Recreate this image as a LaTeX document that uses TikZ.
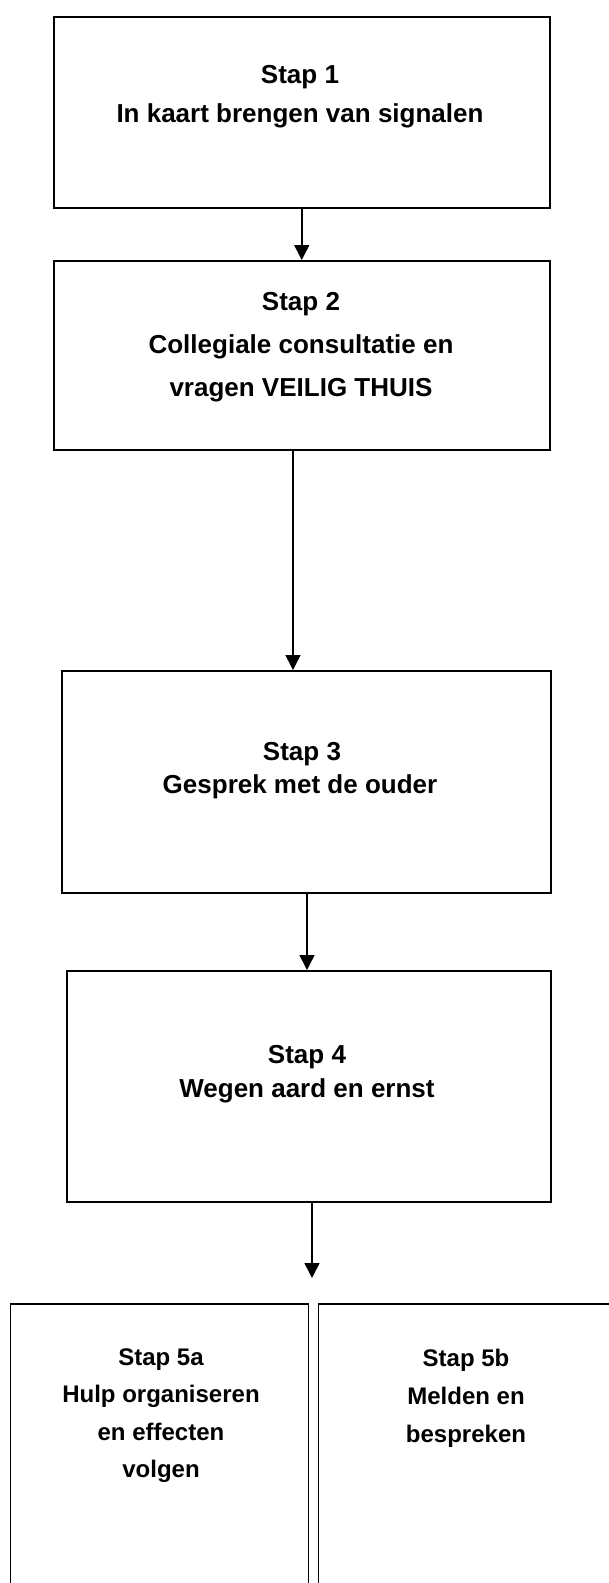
\documentclass[tikz,border=0pt]{standalone}
\usepackage{fontspec}
\setmainfont{Liberation Sans}
\usetikzlibrary{arrows.meta}
\begin{document}
\begin{tikzpicture}[x=1pt,y=-1pt,
  stepbox/.style={draw=black,line width=1.5pt,inner sep=0pt,anchor=north west},
  bigtxt/.style={anchor=base,inner sep=0pt,font=\fontsize{26}{30}\selectfont\bfseries},
  smalltxt/.style={anchor=base,inner sep=0pt,font=\fontsize{24}{28}\selectfont\bfseries},
  arr/.style={line width=1.5pt,-{Triangle[length=15pt,width=15pt]}}]
\useasboundingbox (0,0) rectangle (609,1583);
% boxes
\node[stepbox,minimum width=496pt,minimum height=191pt] (b1) at (53,16) {};
\node[stepbox,minimum width=496pt,minimum height=189pt] (b2) at (53,260) {};
\node[stepbox,minimum width=489pt,minimum height=222pt] (b3) at (61,670) {};
\node[stepbox,minimum width=484pt,minimum height=231pt] (b4) at (66,970) {};
\node[stepbox,minimum width=298pt,minimum height=320pt] (b5a) at (9.5,1303) {};
\node[stepbox,minimum width=310pt,minimum height=320pt] (b5b) at (317.5,1303) {};
% texts
\node[bigtxt] (t1a) at (300,83) {Stap 1};
\node[bigtxt] (t1b) at (300,122) {In kaart brengen van signalen};
\node[bigtxt] (t2a) at (301,310) {Stap 2};
\node[bigtxt] (t2b) at (301,353) {Collegiale consultatie en};
\node[bigtxt] (t2c) at (301,396) {vragen VEILIG THUIS};
\node[bigtxt] (t3a) at (302,760) {Stap 3};
\node[bigtxt] (t3b) at (300,793) {Gesprek met de ouder};
\node[bigtxt] (t4a) at (307,1063) {Stap 4};
\node[bigtxt] (t4b) at (307,1097) {Wegen aard en ernst};
\node[smalltxt] (t5a1) at (161,1365) {Stap 5a};
\node[smalltxt] (t5a2) at (161,1402) {Hulp organiseren};
\node[smalltxt] (t5a3) at (161,1440) {en effecten};
\node[smalltxt] (t5a4) at (161,1477) {volgen};
\node[smalltxt] (t5b1) at (466,1366) {Stap 5b};
\node[smalltxt] (t5b2) at (466,1404) {Melden en};
\node[smalltxt] (t5b3) at (466,1442) {bespreken};
% connectors
\coordinate (end4) at (312,1278);
\draw[arr] (b1.south) -- (b2.north -| b1.south);
\draw[arr] (b2.south -| 293,0) -- (b3.north -| 293,0);
\draw[arr] (b3.south -| 307,0) -- (b4.north -| 307,0);
\draw[arr] (b4.south -| end4) -- (end4);
\end{tikzpicture}
\end{document}
